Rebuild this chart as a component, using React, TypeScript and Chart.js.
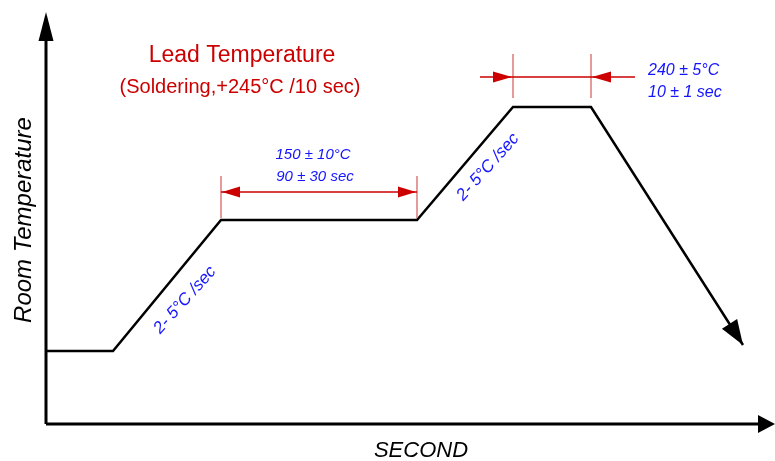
import React, { useEffect, useRef } from "react";
import { Chart, registerables } from "chart.js";

Chart.register(...registerables);

// Reflow profile (schematic units: time offset, temperature level above axis)
const profileTime = [0, 67, 175, 371, 467, 545, 697];
const profileTemp = [73, 73, 204, 204, 317, 317, 79];

// Dimension spans (time) and their levels
const soakSpan = [175, 371];
const soakDimLevel = 232;
const peakSpan = [467, 545];
const peakDimLevel = 347;

const titleLines = ["Lead Temperature", "(Soldering,+245°C /10 sec)"];
const soakLabels = ["150 ± 10°C", "90 ± 30 sec"];
const peakLabels = ["240 ± 5°C", "10 ± 1 sec"];
const rampLabel = "2- 5°C /sec";
const xTitle = "SECOND";
const yTitle = "Room Temperature";

const RED = "#cc0000";
const RED_LIGHT = "#e07a7a";
const BLUE = "#1414ff";
const FONT = "'Liberation Sans', Arial, sans-serif";

function arrowHead(ctx: CanvasRenderingContext2D, tx: number, ty: number, fx: number, fy: number, len: number, half: number) {
  const a = Math.atan2(ty - fy, tx - fx);
  const bx = tx - Math.cos(a) * len;
  const by = ty - Math.sin(a) * len;
  const px = -Math.sin(a) * half;
  const py = Math.cos(a) * half;
  ctx.beginPath();
  ctx.moveTo(tx, ty);
  ctx.lineTo(bx + px, by + py);
  ctx.lineTo(bx - px, by - py);
  ctx.closePath();
  ctx.fill();
}

const decorPlugin = {
  id: "decor",
  afterDatasetsDraw(chart: any) {
    const ctx: CanvasRenderingContext2D = chart.ctx;
    const xs = chart.scales.x;
    const ys = chart.scales.y;
    const X = (v: number) => xs.getPixelForValue(v);
    const Y = (v: number) => ys.getPixelForValue(v);
    ctx.save();

    // Axes
    ctx.strokeStyle = "#000";
    ctx.fillStyle = "#000";
    ctx.lineWidth = 3;
    ctx.beginPath();
    ctx.moveTo(X(0), Y(0));
    ctx.lineTo(X(0), Y(385));
    ctx.moveTo(X(0), Y(0));
    ctx.lineTo(X(715), Y(0));
    ctx.stroke();
    arrowHead(ctx, X(0), Y(412), X(0), Y(0), 29, 7.5);
    arrowHead(ctx, X(729), Y(0), X(0), Y(0), 17, 9);

    // Profile end arrow
    const n = profileTime.length;
    arrowHead(
      ctx,
      X(profileTime[n - 1]), Y(profileTemp[n - 1]),
      X(profileTime[n - 2]), Y(profileTemp[n - 2]),
      25, 9
    );

    // Extension lines
    ctx.strokeStyle = RED_LIGHT;
    ctx.lineWidth = 1.5;
    ctx.beginPath();
    for (const t of soakSpan) {
      ctx.moveTo(X(t), Y(soakDimLevel + 16));
      ctx.lineTo(X(t), Y(soakDimLevel - 26));
    }
    for (const t of peakSpan) {
      ctx.moveTo(X(t), Y(peakDimLevel + 23));
      ctx.lineTo(X(t), Y(peakDimLevel - 21));
    }
    ctx.stroke();

    // Dimension lines
    ctx.strokeStyle = RED;
    ctx.fillStyle = RED;
    ctx.lineWidth = 1.3;
    ctx.beginPath();
    ctx.moveTo(X(soakSpan[0]), Y(soakDimLevel));
    ctx.lineTo(X(soakSpan[1]), Y(soakDimLevel));
    ctx.moveTo(X(peakSpan[0]) - 33, Y(peakDimLevel));
    ctx.lineTo(X(peakSpan[1]) + 44, Y(peakDimLevel));
    ctx.stroke();
    arrowHead(ctx, X(soakSpan[0]) + 1, Y(soakDimLevel), X(soakSpan[1]), Y(soakDimLevel), 18, 5.5);
    arrowHead(ctx, X(soakSpan[1]) - 1, Y(soakDimLevel), X(soakSpan[0]), Y(soakDimLevel), 18, 5.5);
    arrowHead(ctx, X(peakSpan[0]) - 1, Y(peakDimLevel), X(peakSpan[0]) - 40, Y(peakDimLevel), 19, 5.5);
    arrowHead(ctx, X(peakSpan[1]) + 1, Y(peakDimLevel), X(peakSpan[1]) + 40, Y(peakDimLevel), 19, 5.5);

    // Title
    ctx.fillStyle = RED;
    ctx.textAlign = "center";
    ctx.textBaseline = "alphabetic";
    ctx.font = `23px ${FONT}`;
    ctx.fillText(titleLines[0], X(196), Y(362));
    ctx.font = `20px ${FONT}`;
    ctx.fillText(titleLines[1], X(194), Y(331));

    // Blue labels
    ctx.fillStyle = BLUE;
    ctx.font = `italic 15px ${FONT}`;
    ctx.fillText(soakLabels[0], X(267), Y(265));
    ctx.fillText(soakLabels[1], X(269), Y(243));
    ctx.textAlign = "left";
    ctx.font = `italic 16px ${FONT}`;
    ctx.fillText(peakLabels[0], X(602), Y(349));
    ctx.fillText(peakLabels[1], X(602), Y(327));

    // Ramp labels
    ctx.font = `italic 17px ${FONT}`;
    ctx.textAlign = "center";
    ctx.textBaseline = "middle";
    const ramps: [number, number][] = [[139, 124], [442, 257]];
    for (const [t, v] of ramps) {
      ctx.save();
      ctx.translate(X(t), Y(v));
      ctx.rotate((-48 * Math.PI) / 180);
      ctx.fillText(rampLabel, 0, 0);
      ctx.restore();
    }

    // Axis titles
    ctx.fillStyle = "#000";
    ctx.font = `italic 22px ${FONT}`;
    ctx.textBaseline = "alphabetic";
    ctx.fillText(xTitle, X(375), Y(-33));
    ctx.save();
    ctx.translate(X(-22), Y(204));
    ctx.rotate(-Math.PI / 2);
    ctx.textBaseline = "middle";
    ctx.font = `italic 24px ${FONT}`;
    ctx.fillText(yTitle, 0, 0);
    ctx.restore();

    ctx.restore();
  },
};

export default function App() {
  const ref = useRef<HTMLCanvasElement>(null);
  useEffect(() => {
    if (!ref.current) return;
    const chart = new Chart(ref.current, {
      type: "scatter",
      data: {
        datasets: [
          {
            data: profileTime.map((t, i) => ({ x: t, y: profileTemp[i] })),
            showLine: true,
            borderColor: "#000",
            borderWidth: 2.5,
            pointRadius: 0,
            tension: 0,
            fill: false,
          },
        ],
      },
      options: {
        animation: false,
        responsive: false,
        maintainAspectRatio: false,
        layout: { padding: 0 },
        events: [],
        plugins: { legend: { display: false }, tooltip: { enabled: false }, title: { display: false } },
        scales: {
          x: { type: "linear", min: -46, max: 729, display: false },
          y: { type: "linear", min: -37, max: 424, display: false },
        },
      },
      plugins: [decorPlugin],
    });
    return () => chart.destroy();
  }, []);
  return (
    <div style={{ position: "fixed", left: 0, top: 0, width: 775, height: 461, background: "#fff" }}>
      <canvas ref={ref} width={775} height={461} style={{ display: "block", width: 775, height: 461 }} />
    </div>
  );
}
